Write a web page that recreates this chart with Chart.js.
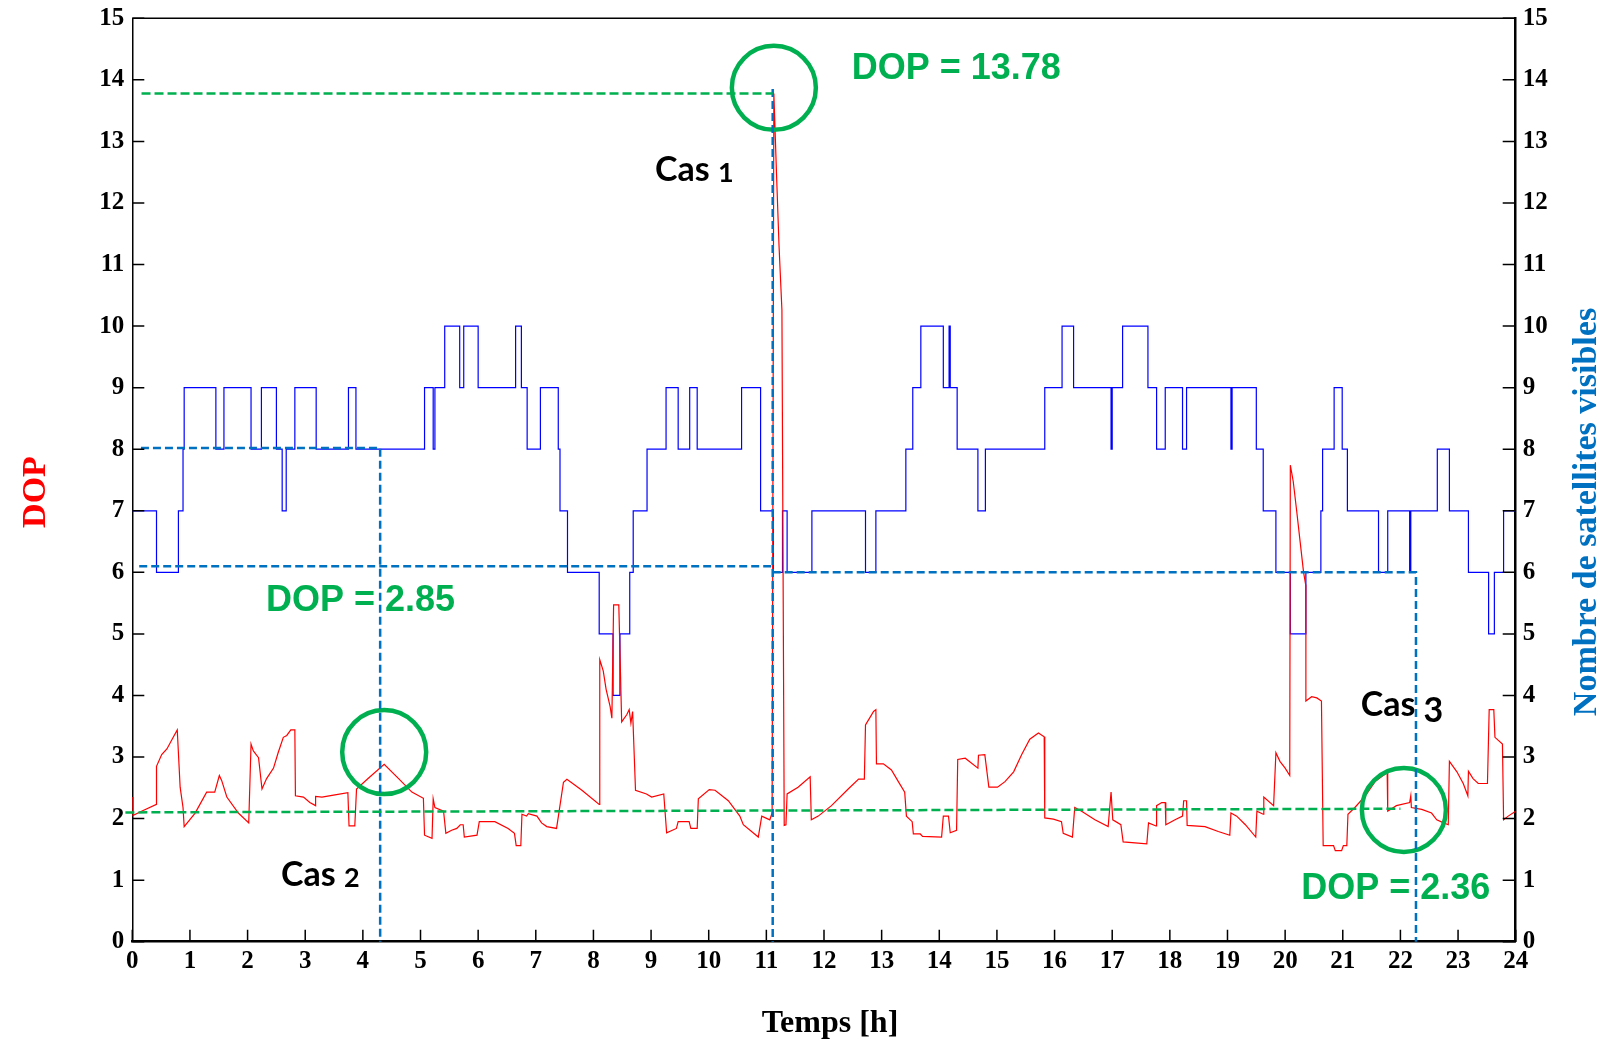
<!DOCTYPE html>
<html>
<head>
<meta charset="utf-8">
<script src="https://cdn.jsdelivr.net/npm/chart.js@4.4.0/dist/chart.umd.min.js"></script>
<style>
  html, body { margin: 0; padding: 0; background: #fff; }
  canvas { display: block; }
</style>
</head>
<body>
<canvas id="dopChart" width="1603" height="1044"></canvas>
<script>

// number of visible satellites: hour where the count changes, new count
var satHours = [0, 0.42, 0.80, 0.88, 0.90, 1.45, 1.59, 2.06, 2.24, 2.50, 2.60, 2.67, 2.82, 3.19, 3.75, 3.88,
  5.07, 5.22, 5.25, 5.42, 5.68, 5.75, 6.00, 6.65, 6.75, 6.85, 7.08, 7.39, 7.42, 7.55,
  8.10, 8.34, 8.46, 8.63, 8.69, 8.93, 9.26, 9.47, 9.67, 9.80, 10.57, 10.90, 11.12, 11.28, 11.36, 11.79,
  12.72, 12.90, 13.42, 13.54, 13.68, 14.07, 14.17, 14.19, 14.31, 14.67, 14.80, 15.83,
  16.13, 16.33, 16.98, 17.00, 17.18, 17.62, 17.77, 17.92, 18.22, 18.29, 19.06, 19.08, 19.50, 19.62, 19.84,
  20.09, 20.36, 20.62, 20.65, 20.85, 20.99, 21.08, 21.62, 21.78, 22.16, 22.18, 22.64, 22.85, 23.18, 23.53, 23.63, 23.79, 24];
var satCount = [7, 6, 7, 8, 9, 8, 9, 8, 9, 8, 7, 8, 9, 8, 9, 8,
  9, 8, 9, 10, 9, 10, 9, 10, 9, 8, 9, 8, 7, 6,
  5, 4, 5, 6, 7, 8, 9, 8, 9, 8, 9, 7, 6, 7, 6, 7,
  6, 7, 8, 9, 10, 9, 10, 9, 8, 7, 8, 9,
  10, 9, 8, 9, 10, 9, 8, 9, 8, 9, 8, 9, 8, 7, 6,
  5, 6, 7, 8, 9, 8, 7, 6, 7, 6, 7, 8, 7, 6, 5, 6, 7, 7];

// DOP over the day
var dopHours = [0.00, 0.01, 0.16, 0.42, 0.42, 0.51, 0.60, 0.71, 0.78, 0.83, 0.88, 0.90, 1.09, 1.29, 1.43, 1.51, 1.55, 1.64, 1.84,
  2.02, 2.06, 2.10, 2.19, 2.25, 2.33, 2.45, 2.53, 2.62, 2.68, 2.75, 2.82, 2.83, 2.97, 3.08, 3.18, 3.18, 3.29, 3.49, 3.74, 3.76, 3.86, 3.89,
  4.09, 4.37, 4.62, 4.85, 5.05, 5.07, 5.20, 5.22, 5.25, 5.40, 5.44, 5.54, 5.63, 5.69, 5.74, 5.76, 5.98,
  6.02, 6.29, 6.52, 6.63, 6.66, 6.74, 6.76, 6.84, 6.87, 7.02, 7.10, 7.19, 7.36, 7.40, 7.48, 7.54, 7.80,
  8.10, 8.11, 8.17, 8.22, 8.29, 8.32, 8.35, 8.44, 8.49, 8.58, 8.62, 8.65, 8.68, 8.73, 8.92, 9.01, 9.22, 9.27, 9.44, 9.47, 9.66, 9.69, 9.80, 9.82,
  10.01, 10.11, 10.34, 10.54, 10.60, 10.86, 10.92, 11.06, 11.10, 11.13, 11.18, 11.22, 11.27, 11.31, 11.34, 11.36, 11.55, 11.76, 11.78, 11.90,
  12.13, 12.42, 12.60, 12.70, 12.72, 12.77, 12.86, 12.90, 12.91, 13.03, 13.17, 13.29, 13.40, 13.43, 13.53, 13.55, 13.67, 13.71,
  14.04, 14.07, 14.16, 14.19, 14.30, 14.32, 14.45, 14.67, 14.68, 14.79, 14.86, 15.01, 15.14, 15.29, 15.43, 15.57, 15.72, 15.82, 15.83, 15.98,
  16.12, 16.15, 16.31, 16.35, 16.47, 16.70, 16.93, 16.98, 17.01, 17.15, 17.19, 17.60, 17.63, 17.76, 17.77, 17.86, 17.92, 17.93,
  18.09, 18.22, 18.24, 18.29, 18.30, 18.61, 18.84, 19.04, 19.06, 19.16, 19.31, 19.49, 19.51, 19.62, 19.63, 19.80, 19.84, 19.91,
  20.00, 20.08, 20.09, 20.14, 20.20, 20.26, 20.32, 20.36, 20.36, 20.46, 20.55, 20.63, 20.66, 20.84, 20.87, 20.98,
  21.01, 21.07, 21.09, 21.21, 21.39, 21.56, 21.77, 21.78, 21.93, 22.16, 22.18, 22.19, 22.37, 22.54, 22.63, 22.75, 22.83, 22.85, 22.98,
  23.09, 23.17, 23.18, 23.26, 23.35, 23.51, 23.54, 23.62, 23.64, 23.77, 23.79, 23.87, 24.00];
var dopValues = [2.35, 2.05, 2.12, 2.23, 2.85, 3.04, 3.13, 3.32, 3.44, 2.51, 2.18, 1.87, 2.09, 2.43, 2.43, 2.70, 2.62, 2.35, 2.09,
  1.93, 3.21, 3.10, 2.99, 2.48, 2.65, 2.82, 3.07, 3.32, 3.35, 3.44, 3.44, 2.37, 2.35, 2.26, 2.21, 2.36, 2.35, 2.38, 2.42, 1.88, 1.88, 2.48,
  2.65, 2.88, 2.65, 2.43, 2.33, 1.73, 1.68, 2.32, 2.18, 2.12, 1.76, 1.81, 1.84, 1.90, 1.90, 1.70, 1.73,
  1.95, 1.95, 1.84, 1.76, 1.56, 1.56, 2.07, 2.04, 2.08, 2.04, 1.93, 1.87, 1.84, 2.09, 2.59, 2.64, 2.46,
  2.23, 4.58, 4.40, 4.10, 3.82, 3.63, 5.47, 5.47, 3.57, 3.69, 3.77, 3.55, 3.74, 2.46, 2.40, 2.35, 2.40, 1.77, 1.84, 1.95, 1.95, 1.84, 1.84, 2.32,
  2.47, 2.46, 2.29, 2.04, 1.90, 1.70, 2.04, 1.98, 2.09, 13.78, 12.37, 11.30, 10.26, 1.89, 1.90, 2.40, 2.51, 2.68, 1.98, 2.04,
  2.21, 2.48, 2.64, 2.64, 3.52, 3.60, 3.74, 3.77, 2.89, 2.89, 2.79, 2.60, 2.43, 2.04, 1.95, 1.75, 1.75, 1.71,
  1.70, 2.04, 2.04, 1.77, 1.81, 2.96, 2.98, 2.82, 3.03, 3.04, 2.51, 2.51, 2.60, 2.76, 3.04, 3.29, 3.39, 3.33, 2.01, 1.99,
  1.95, 1.76, 1.70, 2.18, 2.12, 1.98, 1.87, 2.43, 1.98, 1.90, 1.62, 1.59, 1.93, 1.88, 2.21, 2.26, 2.26, 1.90,
  1.98, 2.04, 2.29, 2.29, 1.89, 1.87, 1.79, 1.73, 2.09, 2.04, 1.90, 1.70, 2.12, 2.07, 2.35, 2.21, 3.07, 2.93,
  2.82, 2.70, 7.74, 7.48, 7.00, 6.50, 6.00, 5.78, 3.91, 3.98, 3.96, 3.91, 1.56, 1.56, 1.48, 1.48,
  1.56, 1.56, 2.07, 2.18, 2.37, 2.60, 2.75, 2.12, 2.21, 2.26, 2.37, 2.18, 2.15, 2.09, 1.98, 1.93, 1.90, 2.93, 2.76,
  2.57, 2.37, 2.77, 2.65, 2.57, 2.57, 3.77, 3.77, 3.32, 3.21, 1.98, 2.04, 2.12];

var hourTicks = [0, 1, 2, 3, 4, 5, 6, 7, 8, 9, 10, 11, 12, 13, 14, 15, 16, 17, 18, 19, 20, 21, 22, 23, 24];
var levelTicks = [0, 1, 2, 3, 4, 5, 6, 7, 8, 9, 10, 11, 12, 13, 14, 15];

// reference lines (null = break)
var greenGuideX = [0.16, 11.11, null, -0.12, 22.0];
var greenGuideY = [13.78, 13.78, null, 2.10, 2.16];
var blueGuideX = [0.15, 4.30, 4.30, null, 0.12, 11.11, null, 11.11, 11.11, null, 11.11, 22.27, 22.27];
var blueGuideY = [8.02, 8.02, 0, null, 6.10, 6.10, null, 13.85, 0, null, 6.0, 6.0, 0];

// highlighted points
var circleX = [11.13, 4.37, 22.06];
var circleY = [13.87, 3.08, 2.14];

// text notes, anchored in data units
var noteText = ['DOP = 13.78', 'DOP = 2.85', 'DOP = 2.36'];
var noteX = [12.48, 2.32, 20.28];
var noteY = [14.17, 5.53, 0.85];
var casNum = ['1', '2', '3'];
var casX = [9.07, 2.58, 21.31];
var casY = [12.54, 1.09, 3.84];

function pts(xs, ys) {
    return xs.map(function (x, i) { return { x: x, y: ys[i] }; });
}

var tickFont = { family: 'Liberation Serif', weight: 'bold', size: 25 };

function noPad(s) {
    s.paddingTop = 0; s.paddingBottom = 0; s.paddingLeft = 0; s.paddingRight = 0;
}

var framePlugin = {
    id: 'frame',
    afterDraw: function (chart) {
        var ctx = chart.ctx;
        var a = chart.chartArea;
        var sx = chart.scales.x, sy = chart.scales.y, sy1 = chart.scales.y1;
        ctx.save();
        ctx.strokeStyle = '#000';
        ctx.lineWidth = 1.5;
        // top border
        ctx.beginPath();
        ctx.moveTo(a.left, a.top);
        ctx.lineTo(a.right, a.top);
        ctx.stroke();
        // inward ticks
        ctx.beginPath();
        levelTicks.forEach(function (v) {
            var py = sy.getPixelForValue(v);
            ctx.moveTo(a.left, py); ctx.lineTo(a.left + 12, py);
            var py1 = sy1.getPixelForValue(v);
            ctx.moveTo(a.right, py1); ctx.lineTo(a.right - 13, py1);
        });
        hourTicks.forEach(function (v) {
            var px = sx.getPixelForValue(v);
            ctx.moveTo(px, a.bottom); ctx.lineTo(px, a.bottom - 12);
        });
        ctx.stroke();

        // axis titles
        ctx.fillStyle = '#ff0000';
        ctx.font = 'bold 34px "Liberation Serif"';
        ctx.textAlign = 'center';
        ctx.textBaseline = 'alphabetic';
        ctx.save();
        ctx.translate(45, (a.top + a.bottom) / 2 + 12);
        ctx.rotate(-Math.PI / 2);
        ctx.fillText('DOP', 0, 0);
        ctx.restore();

        ctx.fillStyle = '#0070c0';
        ctx.save();
        ctx.translate(1596, (a.top + a.bottom) / 2 + 32);
        ctx.rotate(-Math.PI / 2);
        ctx.fillText('Nombre de satellites visibles', 0, 0);
        ctx.restore();

        ctx.fillStyle = '#000';
        ctx.font = 'bold 32px "Liberation Serif"';
        ctx.fillText('Temps [h]', (a.left + a.right) / 2 + 6, 1032);

        // DOP notes
        ctx.fillStyle = '#00b050';
        ctx.font = 'bold 36px "Liberation Sans"';
        ctx.textAlign = 'left';
        ctx.textBaseline = 'middle';
        noteText.forEach(function (t, i) {
            ctx.fillText(t, sx.getPixelForValue(noteX[i]), sy.getPixelForValue(noteY[i]));
        });

        // case labels
        ctx.fillStyle = '#000';
        casNum.forEach(function (n, i) {
            var px = sx.getPixelForValue(casX[i]);
            var py = sy.getPixelForValue(casY[i]);
            ctx.font = 'bold 34px Lato';
            ctx.textBaseline = 'middle';
            ctx.fillText('Cas', px, py);
            var w = ctx.measureText('Cas ').width;
            if (n === '3') {
                ctx.font = 'bold 34px Lato';
                ctx.fillText(n, px + w, py + 6);
            } else {
                ctx.font = 'bold 27px Lato';
                ctx.textBaseline = 'alphabetic';
                ctx.fillText(n, px + w, py + 12);
            }
        });
        ctx.restore();
    }
};

var chart = new Chart(document.getElementById('dopChart').getContext('2d'), {
    type: 'line',
    data: {
        datasets: [{
            label: 'guides green',
            data: pts(greenGuideX, greenGuideY),
            borderColor: '#00b050',
            borderWidth: 2.5,
            borderDash: [9, 4],
            pointRadius: 0,
            spanGaps: false,
            clip: false,
            yAxisID: 'y'
        }, {
            label: 'guides blue',
            data: pts(blueGuideX, blueGuideY),
            borderColor: '#0070c0',
            borderWidth: 2.5,
            borderDash: [8, 4],
            pointRadius: 0,
            spanGaps: false,
            clip: false,
            yAxisID: 'y'
        }, {
            label: 'cases',
            data: pts(circleX, circleY),
            showLine: false,
            pointRadius: 42,
            pointHoverRadius: 42,
            pointBorderWidth: 4.5,
            pointBorderColor: '#00b050',
            pointBackgroundColor: 'rgba(0,0,0,0)',
            clip: false,
            yAxisID: 'y'
        }, {
            label: 'DOP',
            data: pts(dopHours, dopValues),
            borderColor: '#ff0000',
            borderWidth: 1.2,
            pointRadius: 0,
            tension: 0,
            yAxisID: 'y'
        }, {
            label: 'Nombre de satellites visibles',
            data: pts(satHours, satCount),
            borderColor: '#0000ff',
            borderWidth: 1.2,
            pointRadius: 0,
            stepped: true,
            yAxisID: 'y1'
        }]
    },
    options: {
        responsive: false,
        devicePixelRatio: 1,
        animation: false,
        events: [],
        layout: { autoPadding: false, padding: { top: 18.3, left: 0, right: 0, bottom: 0 } },
        plugins: { legend: { display: false }, tooltip: { enabled: false } },
        scales: {
            x: {
                type: 'linear', position: 'bottom', min: 0, max: 24,
                afterBuildTicks: function (s) { s.ticks = hourTicks.map(function (v) { return { value: v }; }); },
                afterFit: function (s) { s.height = 102.3; noPad(s); },
                ticks: { font: tickFont, color: '#000', padding: 5, maxRotation: 0, autoSkip: false },
                grid: { display: false, drawTicks: false },
                border: { display: true, color: '#000', width: 2.5 }
            },
            y: {
                type: 'linear', position: 'left', min: 0, max: 15,
                afterBuildTicks: function (s) { s.ticks = levelTicks.map(function (v) { return { value: v }; }); },
                afterFit: function (s) { s.width = 132.3; noPad(s); },
                ticks: { font: tickFont, color: '#000', padding: 8 },
                grid: { display: false, drawTicks: false },
                border: { display: true, color: '#000', width: 1.5 }
            },
            y1: {
                type: 'linear', position: 'right', min: 0, max: 15,
                afterBuildTicks: function (s) { s.ticks = levelTicks.map(function (v) { return { value: v }; }); },
                afterFit: function (s) { s.width = 87.3; noPad(s); },
                ticks: { font: tickFont, color: '#000', padding: 7 },
                grid: { display: false, drawTicks: false },
                border: { display: true, color: '#000', width: 2.5 }
            }
        }
    },
    plugins: [framePlugin]
});

</script>
</body>
</html>
